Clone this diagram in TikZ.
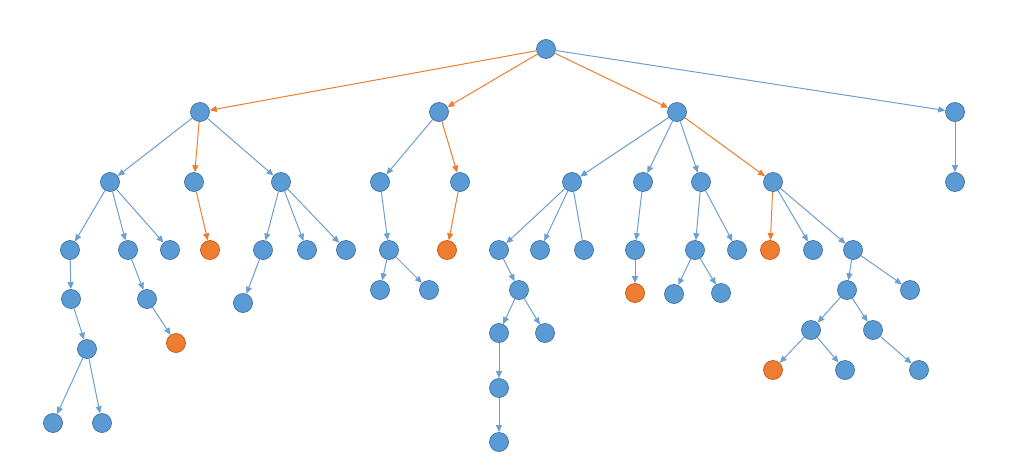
\documentclass[tikz,border=0pt]{standalone}
\usepackage{tikz}
\usetikzlibrary{arrows.meta}
\usepackage{xcolor}

\definecolor{nodeblue}{HTML}{5B9BD5}
\definecolor{nodeline}{HTML}{41719C}
\definecolor{nodeorange}{HTML}{ED7D31}
\definecolor{orangeline}{HTML}{C55A11}
\definecolor{edgeblue}{HTML}{6C9FD2}

\tikzset{
  vtx/.style={circle, fill=nodeblue, draw=nodeline, line width=0.7pt, minimum size=19pt, inner sep=0pt},
  hit/.style={vtx, fill=nodeorange, draw=orangeline},
  blu/.style={edgeblue, line width=1pt, -{Triangle[length=7pt,width=6pt]}},
  org/.style={nodeorange, line width=1pt, -{Triangle[length=7pt,width=6pt]}},
  bare/.style={edgeblue, line width=1pt}
}

\begin{document}
\begin{tikzpicture}[x=1pt, y=-1pt]
    \useasboundingbox (0,0) rectangle (1026,472);
    % root and first level
    \node[vtx] (r) at (546,49) {};
    \node[vtx] (a) at (200,112) {};
    \node[vtx] (b) at (439,112) {};
    \node[vtx] (c) at (677,112) {};
    \node[vtx] (d) at (955,112) {};
    % second level
    \node[vtx] (a1) at (110,182) {};
    \node[vtx] (a2) at (194,182) {};
    \node[vtx] (a3) at (281,182) {};
    \node[vtx] (b1) at (380,182) {};
    \node[vtx] (b2) at (460,182) {};
    \node[vtx] (c1) at (572,182) {};
    \node[vtx] (c2) at (643,182) {};
    \node[vtx] (c3) at (701,182) {};
    \node[vtx] (c4) at (773,182) {};
    \node[vtx] (d1) at (955,182) {};
    % third level
    \node[vtx] (a1a) at (70,250) {};
    \node[vtx] (a1b) at (128,250) {};
    \node[vtx] (a1c) at (170,250) {};
    \node[hit] (a2a) at (210,250) {};
    \node[vtx] (a3a) at (263,250) {};
    \node[vtx] (a3b) at (307,250) {};
    \node[vtx] (a3c) at (346,250) {};
    \node[vtx] (b1a) at (389,250) {};
    \node[hit] (b2a) at (447,250) {};
    \node[vtx] (c1a) at (499,250) {};
    \node[vtx] (c1b) at (540,250) {};
    \node[vtx] (c1c) at (584,250) {};
    \node[vtx] (c2a) at (635,250) {};
    \node[vtx] (c3a) at (695,250) {};
    \node[vtx] (c3b) at (737,250) {};
    \node[hit] (c4a) at (770,250) {};
    \node[vtx] (c4b) at (813,250) {};
    \node[vtx] (c4c) at (853,250) {};
    % fourth level
    \node[vtx] (a1aa) at (71,299) {};
    \node[vtx] (a1ba) at (147,299) {};
    \node[vtx] (a3aa) at (243,303) {};
    \node[vtx] (b1aa) at (380,290) {};
    \node[vtx] (b1ab) at (429,290) {};
    \node[vtx] (c1aa) at (519,290) {};
    \node[hit] (c2aa) at (635,293) {};
    \node[vtx] (c3aa) at (674,294) {};
    \node[vtx] (c3ab) at (721,293) {};
    \node[vtx] (c4ca) at (847,290) {};
    \node[vtx] (c4cb) at (910,290) {};
    % fifth level and below
    \node[vtx] (p1) at (87,349) {};
    \node[hit] (p2) at (176,343) {};
    \node[vtx] (p3) at (499,333) {};
    \node[vtx] (p4) at (545,333) {};
    \node[vtx] (p5) at (811,330) {};
    \node[vtx] (p6) at (873,330) {};
    \node[vtx] (q1) at (53,423) {};
    \node[vtx] (q2) at (102,423) {};
    \node[vtx] (q3) at (499,388) {};
    \node[hit] (q4) at (773,370) {};
    \node[vtx] (q5) at (845,370) {};
    \node[vtx] (q6) at (919,370) {};
    \node[vtx] (s1) at (499,442) {};
    % edges
    \draw[org] (r) -- (a);
    \draw[org] (r) -- (b);
    \draw[org] (r) -- (c);
    \draw[blu] (r) -- (d);
    \draw[blu] (a) -- (a1);
    \draw[org] (a) -- (a2);
    \draw[blu] (a) -- (a3);
    \draw[blu] (b) -- (b1);
    \draw[org] (b) -- (b2);
    \draw[blu] (c) -- (c1);
    \draw[blu] (c) -- (c2);
    \draw[blu] (c) -- (c3);
    \draw[org] (c) -- (c4);
    \draw[blu] (d) -- (d1);
    \draw[blu] (a1) -- (a1a);
    \draw[blu] (a1) -- (a1b);
    \draw[blu] (a1) -- (a1c);
    \draw[org] (a2) -- (a2a);
    \draw[blu] (a3) -- (a3a);
    \draw[blu] (a3) -- (a3b);
    \draw[blu] (a3) -- (a3c);
    \draw[blu] (b1) -- (b1a);
    \draw[org] (b2) -- (b2a);
    \draw[blu] (c1) -- (c1a);
    \draw[blu] (c1) -- (c1b);
    \draw[bare] (c1) -- (c1c);
    \draw[blu] (c2) -- (c2a);
    \draw[blu] (c3) -- (c3a);
    \draw[blu] (c3) -- (c3b);
    \draw[org] (c4) -- (c4a);
    \draw[blu] (c4) -- (c4b);
    \draw[blu] (c4) -- (c4c);
    \draw[blu] (a1a) -- (a1aa);
    \draw[blu] (a1b) -- (a1ba);
    \draw[blu] (a3a) -- (a3aa);
    \draw[blu] (b1a) -- (b1aa);
    \draw[blu] (b1a) -- (b1ab);
    \draw[blu] (c1a) -- (c1aa);
    \draw[blu] (c2a) -- (c2aa);
    \draw[blu] (c3a) -- (c3aa);
    \draw[blu] (c3a) -- (c3ab);
    \draw[blu] (c4c) -- (c4ca);
    \draw[blu] (c4c) -- (c4cb);
    \draw[blu] (a1aa) -- (p1);
    \draw[blu] (a1ba) -- (p2);
    \draw[blu] (c1aa) -- (p3);
    \draw[blu] (c1aa) -- (p4);
    \draw[blu] (c4ca) -- (p5);
    \draw[blu] (c4ca) -- (p6);
    \draw[blu] (p1) -- (q1);
    \draw[blu] (p1) -- (q2);
    \draw[blu] (p3) -- (q3);
    \draw[blu] (p5) -- (q4);
    \draw[blu] (p5) -- (q5);
    \draw[blu] (p6) -- (q6);
    \draw[blu] (q3) -- (s1);
\end{tikzpicture}
\end{document}
